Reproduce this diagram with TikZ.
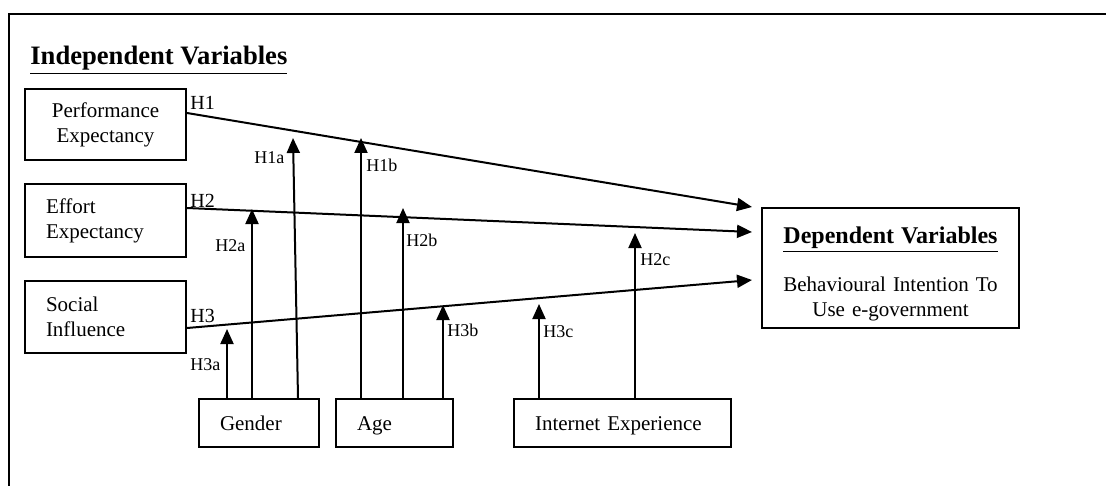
\documentclass[tikz,border=0pt]{standalone}
\usepackage{fontspec}
\setmainfont{Liberation Serif}
\usetikzlibrary{arrows.meta, calc, positioning}

\tikzset{
  varbox/.style={draw, line width=1pt, inner xsep=10.5pt, inner ysep=0pt,
                 font=\fontsize{10.5}{12.5}\selectfont},
  modbox/.style={varbox, minimum height=24pt, align=left, text height=9.5pt, text depth=2.5pt},
  hlab/.style={font=\fontsize{10}{12}\selectfont, inner sep=0pt, anchor=base west},
  sublab/.style={font=\fontsize{9}{11}\selectfont, inner sep=0pt, anchor=base west},
  hyp/.style={line width=1pt, -{Triangle[length=7.5pt,width=6.5pt]}},
}

\begin{document}
\begin{tikzpicture}[x=0.5pt, y=-0.5pt]
\useasboundingbox (0,0) rectangle (1106,486);

% Frame
\draw[line width=1pt] (1106,14) -- (9,14) -- (9,486);

\node[anchor=base west, inner sep=0pt, font=\fontsize{13.3}{16}\selectfont\bfseries] (title) at (30,65) {\underline{Independent Variables}};

% Independent variables
\node[varbox, text width=59.5pt, minimum height=35.5pt, align=center] (pe) at (105.5,124.5) {Performance\\Expectancy};
\node[varbox, text width=59.5pt, minimum height=36.5pt, align=left] (ee) at (105.5,220.5) {Effort\\Expectancy};
\node[varbox, text width=59.5pt, minimum height=36pt, align=left] (si) at (105.5,317) {Social\\Influence};

% Moderators
\node[modbox, text width=39pt] (gender) at (259,423) {Gender};
\node[modbox, text width=37.5pt] (age) at (394.5,423) {Age};
\node[modbox, text width=87.5pt] (inet) at (622.5,423) {Internet Experience};

% Dependent variable
\node[varbox, inner xsep=4.25pt, text width=120pt, minimum height=60pt, align=center] (dv) at (890.5,268)
  {\rule{0pt}{14pt}{\fontsize{12}{14}\selectfont\bfseries\underline{Dependent Variables}}\\[11.5pt]
   Behavioural Intention To\\Use e-government};

% Main hypotheses
\coordinate (t1) at ($(dv.west)+(-9,-61)$);
\coordinate (t2) at ($(dv.west)+(-9,-36)$);
\coordinate (t3) at ($(dv.west)+(-9,12)$);
\draw[hyp] ($(pe.east)+(0,-11.5)$) -- (t1);
\draw[hyp] ($(ee.east)+(0,-12.5)$) -- (t2);
\draw[hyp] ($(si.east)+(0,11)$) -- (t3);

\node[hlab] (l1) at (190,110) {H1};
\node[hlab] (l2) at (190,207) {H2};
\node[hlab] (l3) at (190,322) {H3};

% Moderating effects
\coordinate (h1a) at (293,138);
\coordinate (h1b) at (361,138);
\coordinate (h2a) at (252,209);
\coordinate (h2b) at (403,208);
\coordinate (h2c) at (635,233);
\coordinate (h3a) at (227,329);
\coordinate (h3b) at (443,305);
\coordinate (h3c) at (539,304);

\draw[hyp] (h3a |- gender.north) -- (h3a);
\draw[hyp] (h2a |- gender.north) -- (h2a);
\draw[hyp] ($(gender.north)+(39,0)$) -- (h1a);
\draw[hyp] (h1b |- age.north) -- (h1b);
\draw[hyp] (h2b |- age.north) -- (h2b);
\draw[hyp] (h3b |- age.north) -- (h3b);
\draw[hyp] (h3c |- inet.north) -- (h3c);
\draw[hyp] (h2c |- inet.north) -- (h2c);

\node[sublab] (l1a) at (254,163) {H1a};
\node[sublab] (l1b) at (366,171) {H1b};
\node[sublab] (l2a) at (215,251) {H2a};
\node[sublab] (l2b) at (406,246) {H2b};
\node[sublab] (l2c) at (640,265) {H2c};
\node[sublab] (l3a) at (190,370) {H3a};
\node[sublab] (l3b) at (447,336) {H3b};
\node[sublab] (l3c) at (543,337) {H3c};

\end{tikzpicture}
\end{document}
